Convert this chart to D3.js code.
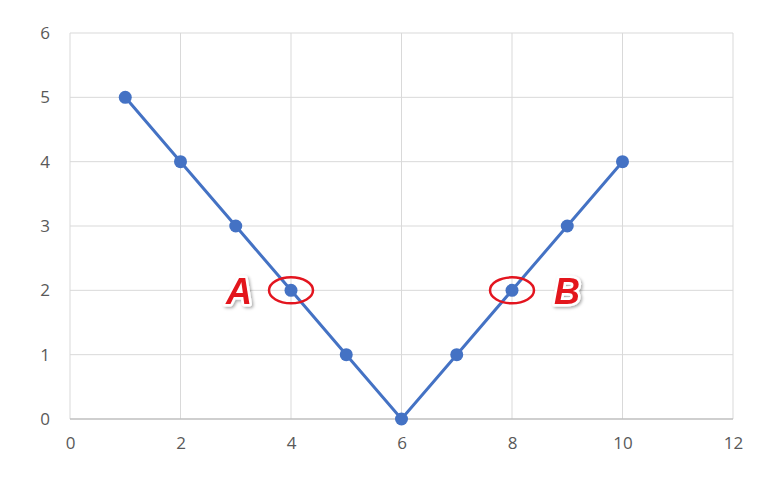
<!DOCTYPE html>
<html><head><meta charset="utf-8">
<script src="https://cdn.jsdelivr.net/npm/d3@7"></script>
<style>body{margin:0;background:#fff;}svg{display:block;}</style>
</head><body>
<svg id="c" width="774" height="482"></svg>
<script>
const xValues = [1, 2, 3, 4, 5, 6, 7, 8, 9, 10];
const yValues = [5, 4, 3, 2, 1, 0, 1, 2, 3, 4];
const xTicks = [0, 2, 4, 6, 8, 10, 12];
const yTicks = [0, 1, 2, 3, 4, 5, 6];
const markers = [{label: "A", x: 4, y: 2, side: "left"}, {label: "B", x: 8, y: 2, side: "right"}];

const svg = d3.select("#c");
const x = d3.scaleLinear().domain([0, 12]).range([70, 733]);
const y = d3.scaleLinear().domain([0, 6]).range([419, 33]);

const defs = svg.append("defs");
const f = defs.append("filter").attr("id", "sh").attr("x", "-30%").attr("y", "-30%").attr("width", "160%").attr("height", "160%");
f.append("feDropShadow").attr("dx", 1.5).attr("dy", 1.5).attr("stdDeviation", 1.5).attr("flood-color", "#000").attr("flood-opacity", 0.35);

// gridlines
svg.append("g").selectAll("line").data(yTicks.filter(d => d > 0)).join("line")
  .attr("x1", x(0)).attr("x2", x(12)).attr("y1", d => y(d)).attr("y2", d => y(d))
  .attr("stroke", "#d9d9d9").attr("stroke-width", 1);
svg.append("g").selectAll("line").data(xTicks).join("line")
  .attr("x1", d => x(d)).attr("x2", d => x(d)).attr("y1", y(0)).attr("y2", y(6))
  .attr("stroke", "#d9d9d9").attr("stroke-width", 1);
// bottom axis line
svg.append("line").attr("x1", x(0)).attr("x2", x(12)).attr("y1", y(0)).attr("y2", y(0))
  .attr("stroke", "#bfbfbf").attr("stroke-width", 1.5);

// axes labels via d3 axes
const xa = svg.append("g").attr("transform", `translate(0,${y(0)})`)
  .call(d3.axisBottom(x).tickValues(xTicks).tickFormat(d3.format("d")).tickSize(0).tickPadding(18));
const ya = svg.append("g").attr("transform", `translate(${x(0)},0)`)
  .call(d3.axisLeft(y).tickValues(yTicks).tickFormat(d3.format("d")).tickSize(0).tickPadding(20));
[xa, ya].forEach(a => {
  a.select(".domain").remove();
  a.selectAll("text").attr("font-family", "'Open Sans', 'Liberation Sans', sans-serif")
    .attr("font-size", 17).attr("fill", "#595959");
});

// line
const pts = xValues.map((d, i) => [d, yValues[i]]);
svg.append("path").datum(pts)
  .attr("d", d3.line().x(d => x(d[0])).y(d => y(d[1])))
  .attr("fill", "none").attr("stroke", "#4472c4").attr("stroke-width", 3);
svg.append("g").selectAll("circle").data(pts).join("circle")
  .attr("cx", d => x(d[0])).attr("cy", d => y(d[1])).attr("r", 6.5)
  .attr("fill", "#4472c4");

// annotations
const ann = svg.append("g");
markers.forEach(m => {
  ann.append("ellipse").attr("cx", x(m.x)).attr("cy", y(m.y)).attr("rx", 22).attr("ry", 13)
    .attr("fill", "none").attr("stroke", "#e3151f").attr("stroke-width", 2.5);
  ann.append("text")
    .attr("x", m.side === "left" ? x(m.x) - 52 : x(m.x) + 55)
    .attr("y", y(m.y) + 14)
    .attr("text-anchor", "middle")
    .attr("font-family", "'Liberation Sans', Arial, sans-serif")
    .attr("font-weight", "bold").attr("font-style", "italic").attr("font-size", 36)
    .attr("fill", "#e3151f").attr("stroke", "#fff").attr("stroke-width", 5)
    .attr("stroke-linejoin", "round").attr("paint-order", "stroke")
    .attr("filter", "url(#sh)")
    .text(m.label);
});
</script>
</body></html>
